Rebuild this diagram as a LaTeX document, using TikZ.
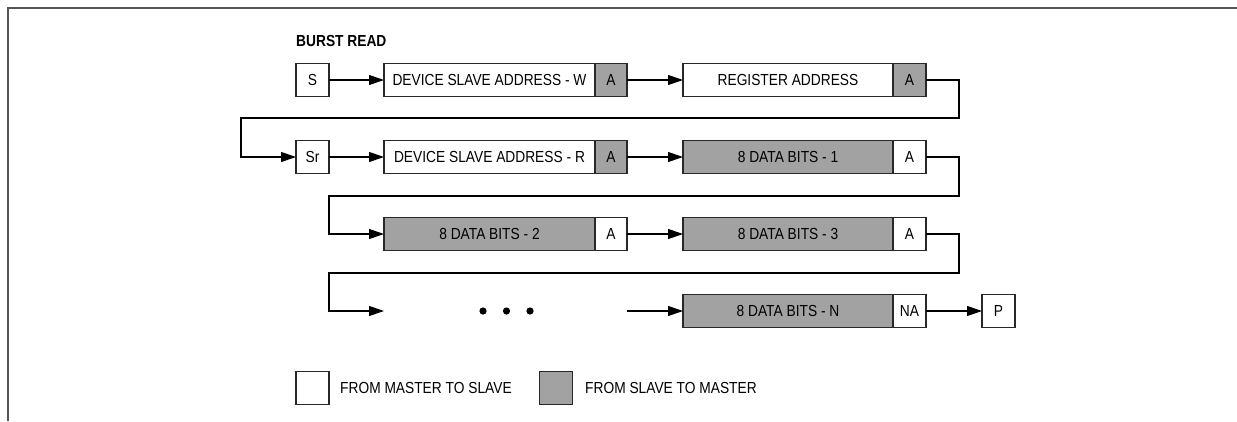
\documentclass[tikz,border=0pt]{standalone}
\usepackage{fontspec}
\setmainfont{Liberation Sans}[FakeStretch=0.86]
\usetikzlibrary{arrows.meta,calc}
\definecolor{boxgray}{RGB}{162,162,162}
\definecolor{edgecol}{RGB}{40,40,40}
\definecolor{framecol}{RGB}{85,85,85}
\begin{document}
\begin{tikzpicture}[x=1pt,y=-1pt,
  font=\fontsize{16}{18}\selectfont,
  box/.style={draw=edgecol,line width=1.1pt,rectangle,inner sep=0pt,outer sep=0pt,minimum height=33pt},
  wbox/.style={box,fill=white},
  gbox/.style={box,fill=boxgray},
  arr/.style={draw=black,line width=1.1pt,-{Triangle[length=15pt,width=10pt]}},
  frameline/.style={draw=framecol,line width=1.6pt}]
\useasboundingbox (0,0) rectangle (1237,421);
\draw[frameline] (8,421) -- (8,8) -- (1237,8);
\node[anchor=west,font=\fontsize{16}{18}\selectfont\bfseries,inner sep=0pt] (title) at (296,41) {BURST READ};
% row 1
\node[wbox,minimum width=33pt] (s) at (312.5,80) {S};
\node[wbox,minimum width=211pt] (dw) at (489.5,80) {DEVICE SLAVE ADDRESS - W};
\node[gbox,minimum width=32pt] (dwa) at (611,80) {A};
\node[wbox,minimum width=210pt] (reg) at (788,80) {REGISTER ADDRESS};
\node[gbox,minimum width=33pt] (rega) at (909.5,80) {A};
% row 2
\node[wbox,minimum width=33pt] (sr) at (312.5,157) {Sr};
\node[wbox,minimum width=211pt] (dr) at (489.5,157) {DEVICE SLAVE ADDRESS - R};
\node[gbox,minimum width=32pt] (dra) at (611,157) {A};
\node[gbox,minimum width=210pt] (d1) at (788,157) {8 DATA BITS - 1};
\node[wbox,minimum width=33pt] (d1a) at (909.5,157) {A};
% row 3
\node[gbox,minimum width=211pt] (d2) at (489.5,234) {8 DATA BITS - 2};
\node[wbox,minimum width=32pt] (d2a) at (611,234) {A};
\node[gbox,minimum width=210pt] (d3) at (788,234) {8 DATA BITS - 3};
\node[wbox,minimum width=33pt] (d3a) at (909.5,234) {A};
% row 4
\node[gbox,minimum width=210pt] (dn) at (788,311) {8 DATA BITS - N};
\node[wbox,minimum width=33pt] (dna) at (909.5,311) {NA};
\node[wbox,minimum width=33pt] (p) at (998.5,311) {P};
% turning points
\coordinate (t1) at (959,118);
\coordinate (l1) at (241,157);
\coordinate (t2) at (959,196);
\coordinate (l2) at (329,234);
\coordinate (t3) at (959,273);
\coordinate (l3) at (329,311);
\coordinate (e4) at (384,311);
\coordinate (b4) at (627,311);
% connectors
\draw[arr] (s.east) -- (dw.west);
\draw[arr] (dwa.east) -- (reg.west);
\draw[arr] (rega.east) -| (t1) -| (l1) -- (sr.west);
\draw[arr] (sr.east) -- (dr.west);
\draw[arr] (dra.east) -- (d1.west);
\draw[arr] (d1a.east) -| (t2) -| (l2) -- (d2.west);
\draw[arr] (d2a.east) -- (d3.west);
\draw[arr] (d3a.east) -| (t3) -| (l3) -- (e4);
\draw[arr] (b4) -- (dn.west);
\draw[arr] (dna.east) -- (p.west);
% dots
\fill (483,311) circle (3.6pt) (506.5,311) circle (3.6pt) (530,311) circle (3.6pt);
% legend
\node[wbox,minimum width=33pt] (lw) at (312.5,388) {};
\node[anchor=west,inner sep=0pt] (lwt) at (340,388) {FROM MASTER TO SLAVE};
\node[gbox,minimum width=33pt] (lg) at (556,388) {};
\node[anchor=west,inner sep=0pt] (lgt) at (585,388) {FROM SLAVE TO MASTER};
\end{tikzpicture}
\end{document}
